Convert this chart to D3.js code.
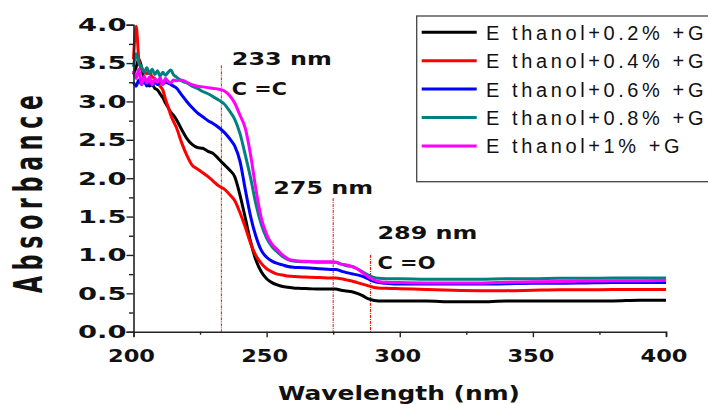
<!DOCTYPE html>
<html>
<head>
<meta charset="utf-8">
<script src="https://cdn.jsdelivr.net/npm/d3@7"></script>
<style>
  html, body { margin: 0; padding: 0; background: #fff; }
  svg { display: block; }
</style>
</head>
<body>
<svg id="chart" width="708" height="404"></svg>
<script>
// Wavelength grid (nm)
const wavelengths = [200,201,202,203,204,205,206,207,208,209,210,211,212,213,214,215,216,
  218,220,222,224,226,228,230,232,234,236,238,240,242,244,246,248,250,252,254,256,258,260,262,
  266,270,274,276,278,280,282,284,286,288,290,292,295,300,
  310,320,330,340,350,360,370,380,390,400];

// Absorbance for each sample
const abs02 = [3.35,3.45,3.55,3.45,3.30,3.27,3.20,3.22,3.17,3.15,3.10,3.05,2.98,2.92,2.86,2.82,2.77,
  2.64,2.52,2.44,2.40,2.39,2.35,2.32,2.25,2.18,2.11,2.02,1.78,1.48,1.17,0.93,0.78,0.69,0.64,0.61,0.59,0.58,0.57,0.565,
  0.56,0.555,0.555,0.555,0.54,0.53,0.52,0.50,0.47,0.43,0.41,0.40,0.40,0.40,
  0.40,0.39,0.39,0.40,0.40,0.40,0.40,0.40,0.41,0.41];
const abs04 = [3.55,3.98,3.55,3.42,3.40,3.36,3.38,3.32,3.30,3.24,3.20,3.15,3.03,2.93,2.82,2.74,2.67,
  2.47,2.30,2.17,2.12,2.07,2.02,1.96,1.90,1.86,1.79,1.71,1.55,1.36,1.15,0.99,0.89,0.82,0.78,0.75,0.74,0.725,0.72,0.715,
  0.71,0.705,0.70,0.70,0.69,0.675,0.66,0.64,0.62,0.60,0.58,0.57,0.565,0.56,
  0.55,0.54,0.535,0.535,0.54,0.545,0.545,0.55,0.55,0.55];
const abs06 = [3.25,3.20,3.28,3.22,3.26,3.20,3.24,3.21,3.25,3.22,3.26,3.23,3.25,3.24,3.22,3.20,3.18,
  3.09,3.00,2.92,2.85,2.80,2.75,2.71,2.66,2.60,2.52,2.42,2.22,1.85,1.50,1.24,1.06,0.97,0.92,0.89,0.87,0.85,0.84,0.835,
  0.83,0.82,0.81,0.81,0.79,0.77,0.755,0.74,0.72,0.69,0.66,0.64,0.63,0.62,
  0.62,0.62,0.62,0.625,0.63,0.63,0.635,0.64,0.64,0.64];
const abs08 = [3.45,3.62,3.50,3.45,3.38,3.44,3.36,3.42,3.35,3.40,3.33,3.38,3.34,3.38,3.41,3.35,3.32,
  3.27,3.24,3.20,3.17,3.13,3.10,3.06,3.02,2.97,2.88,2.77,2.58,2.30,2.00,1.66,1.40,1.22,1.11,1.04,0.98,0.94,0.92,0.915,
  0.91,0.905,0.905,0.905,0.88,0.86,0.85,0.82,0.78,0.74,0.71,0.695,0.69,0.69,
  0.685,0.685,0.685,0.69,0.69,0.695,0.695,0.70,0.70,0.70];
const abs10 = [3.40,3.30,3.42,3.22,3.33,3.24,3.32,3.22,3.30,3.25,3.31,3.22,3.30,3.26,3.24,3.28,3.27,
  3.28,3.25,3.22,3.20,3.19,3.18,3.17,3.16,3.14,3.08,2.98,2.82,2.65,2.30,1.85,1.48,1.27,1.14,1.07,1.00,0.95,0.93,0.92,
  0.915,0.91,0.91,0.905,0.88,0.87,0.85,0.82,0.77,0.72,0.68,0.655,0.645,0.64,
  0.635,0.635,0.635,0.645,0.65,0.655,0.66,0.665,0.665,0.67];

const seriesNames = ["E thanol+0.2% +G","E thanol+0.4% +G","E thanol+0.6% +G","E thanol+0.8% +G","E thanol+1% +G"];
const seriesValues = [abs02, abs04, abs06, abs08, abs10];
const seriesColors = ["#000000","#ff0000","#0000ff","#008080","#ff00ff"];

const xTicks = [200,250,300,350,400];
const yTicks = [0.0,0.5,1.0,1.5,2.0,2.5,3.0,3.5,4.0];

// Marked band positions (nm), height of the guide line and its labels
const bandWl = [233, 275, 289];
const bandTop = [3.47, 1.74, 1.0];
const bandLabel = ["233 nm", "275 nm", "289 nm"];
const bandBond = ["C =C", "", "C =O"];

const svg = d3.select("#chart");
const x = d3.scaleLinear().domain([200, 400]).range([133.5, 666]);
const y = d3.scaleLinear().domain([0, 4]).range([331.7, 24.7]);

// guide lines for the absorption bands
svg.append("g").selectAll("line").data(bandWl).join("line")
  .attr("x1", d => x(d)).attr("x2", d => x(d))
  .attr("y1", (d, i) => y(bandTop[i])).attr("y2", y(0))
  .attr("stroke", "#ff0000").attr("stroke-width", 1)
  .attr("stroke-dasharray", "3,1,1,1");

// spectra
const line = d3.line()
  .x((d, i) => x(wavelengths[i]))
  .y(d => y(d))
  .curve(d3.curveMonotoneX);

svg.append("g").selectAll("path").data(seriesValues).join("path")
  .attr("d", d => line(d))
  .attr("fill", "none")
  .attr("stroke", (d, i) => seriesColors[i])
  .attr("stroke-width", 3)
  .attr("stroke-linejoin", "round");

// axes
const axisColor = "#222";
const xAxis = svg.append("g").attr("transform", `translate(0,${y(0)})`)
  .call(d3.axisBottom(x).tickValues(d3.range(200, 401, 25)).tickSize(5).tickFormat(""));
xAxis.selectAll(".tick line").attr("y2", d => d % 50 === 0 ? 5.5 : 3);
const yAxis = svg.append("g").attr("transform", `translate(${x(200)},0)`)
  .call(d3.axisLeft(y).tickValues(d3.range(0, 4.01, 0.25)).tickSize(7).tickFormat(""));
yAxis.selectAll(".tick line").attr("x2", d => Math.abs(d * 2 - Math.round(d * 2)) < 1e-6 ? -7 : -4.5);
[xAxis, yAxis].forEach(g => {
  g.select(".domain").attr("stroke", axisColor).attr("stroke-width", 1.6);
  g.selectAll(".tick line").attr("stroke", axisColor).attr("stroke-width", 1.4);
});

const boldFont = "'DejaVu Sans', Verdana, sans-serif";

// tick labels
svg.append("g").selectAll("text").data(xTicks).join("text")
  .attr("x", d => x(d) - 25.5).attr("y", 362)
  .attr("textLength", 47).attr("lengthAdjust", "spacingAndGlyphs")
  .attr("font-family", boldFont).attr("font-weight", "bold").attr("font-size", 18)
  .attr("fill", "#111")
  .text(d => d);
svg.append("g").selectAll("text").data(yTicks).join("text")
  .attr("x", 78).attr("y", d => y(d) + 6.3)
  .attr("textLength", 48.5).attr("lengthAdjust", "spacingAndGlyphs")
  .attr("font-family", boldFont).attr("font-weight", "bold").attr("font-size", 17)
  .attr("fill", "#111")
  .text(d => d.toFixed(1));

// axis titles
svg.append("text")
  .attr("x", 278).attr("y", 400)
  .attr("textLength", 242).attr("lengthAdjust", "spacingAndGlyphs")
  .attr("font-family", boldFont).attr("font-weight", "bold").attr("font-size", 19)
  .attr("fill", "#111")
  .text("Wavelength (nm)");
svg.append("text")
  .attr("transform", "translate(42,194) scale(1.75,1) rotate(-90)")
  .attr("x", -99).attr("y", 0)
  .attr("textLength", 198).attr("lengthAdjust", "spacing")
  .attr("font-family", boldFont).attr("font-weight", "bold").attr("font-size", 22)
  .attr("fill", "#111")
  .text("Absorbance");

// band labels
const labelDx = [10.5, -60, 7];
const labelDy = [0, -4, -16];
const band = svg.append("g")
  .attr("font-family", boldFont).attr("font-weight", "bold").attr("font-size", 18).attr("fill", "#111");
bandWl.forEach((w, i) => {
  const lx = x(w) + labelDx[i];
  const ly = y(bandTop[i]) + labelDy[i];
  band.append("text").attr("x", lx).attr("y", ly)
    .attr("textLength", 100).attr("lengthAdjust", "spacingAndGlyphs")
    .text(bandLabel[i]);
  if (bandBond[i]) {
    band.append("text").attr("x", lx).attr("y", ly + 30)
      .attr("textLength", i === 0 ? 55 : 58).attr("lengthAdjust", "spacingAndGlyphs")
      .text(bandBond[i]);
  }
});

// legend
const legend = svg.append("g");
legend.append("rect")
  .attr("x", 416.7).attr("y", 16).attr("width", 300).attr("height", 165.7)
  .attr("fill", "#fff").attr("stroke", "#444").attr("stroke-width", 1.3);
const rows = legend.selectAll("g.row").data(seriesNames).join("g")
  .attr("class", "row")
  .attr("transform", (d, i) => `translate(0,${32.3 + i * 28.4})`);
rows.append("line")
  .attr("x1", 421.7).attr("x2", 476.7)
  .attr("stroke", (d, i) => seriesColors[i]).attr("stroke-width", 3);
rows.append("text")
  .attr("x", 486).attr("y", 7.5)
  .attr("font-family", "'Liberation Sans', Arial, sans-serif").attr("font-size", 20)
  .attr("letter-spacing", 3.6)
  .attr("fill", "#111")
  .text(d => d);
</script>
</body>
</html>
